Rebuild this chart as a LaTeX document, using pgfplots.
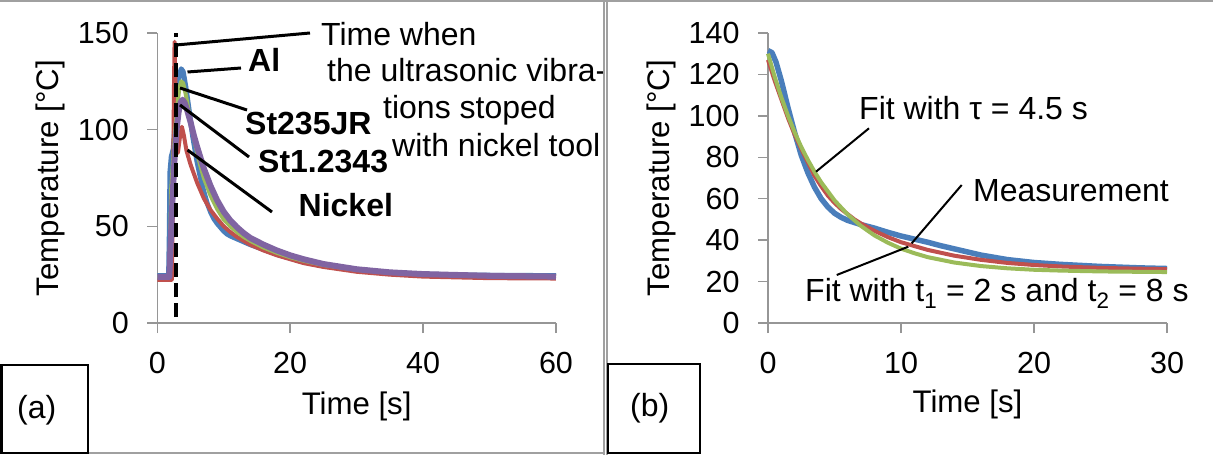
\documentclass[border=0pt]{standalone}
\usepackage{fontspec}
\setmainfont{Liberation Sans}
\usepackage{pgfplots}
\pgfplotsset{compat=1.18}

\definecolor{xlblue}{RGB}{74,126,187}
\definecolor{xlred}{RGB}{192,80,77}
\definecolor{xlgreen}{RGB}{155,187,89}
\definecolor{xlpurple}{RGB}{128,100,162}
\definecolor{axgray}{RGB}{150,150,150}
\definecolor{framegray}{RGB}{160,160,160}

\newcommand{\chartfont}{\fontsize{32bp}{38bp}\selectfont}
\newcommand{\tickfont}{\fontsize{30.5bp}{36bp}\selectfont}
\newcommand{\labelfont}{\fontsize{31.2bp}{37bp}\selectfont}

\pgfplotsset{
  panel/.style={
    scale only axis, anchor=south west,
    height=290bp,
    axis x line*=bottom, axis y line*=left,
    axis line style={axgray, line width=1.5bp, -},
    major tick style={axgray, line width=1.5bp},
    tick align=outside, major tick length=10bp,
    minor tick num=0,
    ticklabel style={font=\tickfont},
    yticklabel style={xshift=-15bp},
    xticklabel style={yshift=-16bp},
    label style={font=\labelfont},
    /pgf/number format/assume math mode=true,
    clip=false,
    ymin=0, xmin=0,
  },
}

\begin{document}
\begin{tikzpicture}[font=\chartfont, line cap=butt]
\useasboundingbox (0,0) rectangle (1213bp,455bp);

% ---------- panel (a): heating and cooling of the four materials ----------
\begin{axis}[panel,
  at={(157.3bp,132bp)}, width=398.7bp,
  xmax=60, ymax=150,
  xtick={0,20,40,60}, ytick={0,50,100,150},
  xlabel={Time [s]}, ylabel={Temperature [°C]},
  xlabel style={at={(axis description cs:0.5,-0.317)}, anchor=base},
  ylabel style={at={(axis description cs:-0.249,0.5)}, anchor=base},
]
% Al
\addplot[xlblue, line width=5bp, line join=round] coordinates {
 (0,24.5) (1.7,24.5) (1.8,45) (1.9,78) (2.1,86) (2.4,90) (2.7,105) (3.0,120)
 (3.3,128) (3.6,131.5) (3.9,130) (4.3,122) (4.8,110) (5.3,97) (6,83) (6.5,75)
 (7,68) (7.5,62) (8,57.5) (8.5,54) (9,51.5) (9.5,49.5) (10,47.5) (10.5,46)
 (11,45) (12,43.5) (13,42) (14,40.5) (16,38) (18,35.5) (20,33.5) (22,31.5)
 (25,29.5) (30,27.3) (35,26) (40,25.3) (45,24.9) (50,24.7) (60,24.5)};
% Nickel
\addplot[xlred, line width=4bp, line join=round] coordinates {
 (0,22.3) (2.2,22.3) (2.35,60) (2.5,120) (2.6,145.5) (2.75,120) (2.9,90)
 (3.1,88) (3.4,96) (3.7,101.5) (4.0,97) (4.4,89) (5,82) (6,72.5) (7,64.5)
 (8,58.5) (9,54) (10,50) (11,47) (12,44.5) (14,40.5) (16,37.5) (18,35)
 (20,33) (22,31) (25,29) (30,26.5) (35,25) (40,24) (50,23.2) (60,23)};
% St235JR
\addplot[xlgreen, line width=4bp, line join=round] coordinates {
 (0,24) (1.8,24) (1.95,45) (2.1,70) (2.4,85) (2.7,100) (3.0,112) (3.3,121)
 (3.6,125) (3.9,124) (4.3,118) (4.8,108) (5.3,99) (6,88) (6.5,81) (7,75)
 (8,66) (9,59) (10,53.5) (11,50) (12,47) (13,44.5) (14,42.5) (16,39)
 (18,36.3) (20,34) (22,32.2) (25,30) (30,27.5) (35,26) (40,25.2) (50,24.5) (60,24.2)};
% St1.2343
\addplot[xlpurple, line width=6bp, line join=round] coordinates {
 (0,23.8) (1.8,23.8) (2.0,40) (2.3,65) (2.6,85) (2.9,100) (3.2,109) (3.5,114)
 (3.8,115.5) (4.1,114) (4.5,110) (5,104) (5.5,97) (6,91) (7,80) (8,71)
 (9,63.5) (10,57.5) (11,53) (12,49.5) (13,46.5) (14,44) (16,40.5) (18,37.5)
 (20,35) (22,33) (25,30.5) (30,27.8) (35,26.2) (40,25.3) (50,24.4) (60,24)};
% moment the vibrations stopped (nickel tool)
\addplot[black, line width=4bp, dash pattern=on 14bp off 6bp] coordinates {(2.8,3) (2.8,150)};
\end{axis}

% labels of panel (a)
\draw[black, line width=3bp] (176bp,410bp) -- (310bp,422bp);
\draw[black, line width=3bp] (187.5bp,383bp) -- (241bp,387bp);
\draw[black, line width=3bp] (180bp,367bp) -- (247bp,345bp);
\draw[black, line width=3bp] (180bp,350bp) -- (249bp,298bp);
\draw[black, line width=3bp] (187.5bp,305bp) -- (272bp,243bp);
\node[anchor=base west, inner sep=0pt] at (321bp,409bp) {Time when};
\node[anchor=base west, inner sep=0pt] at (327bp,373bp) {the ultrasonic vibra-};
\node[anchor=base west, inner sep=0pt] at (383bp,336bp) {tions stoped};
\node[anchor=base west, inner sep=0pt] at (392bp,298bp) {with nickel tool};
\node[anchor=base west, inner sep=0pt, font=\chartfont\bfseries] at (248bp,383bp) {Al};
\node[anchor=base west, inner sep=0pt, font=\chartfont\bfseries] at (245bp,320bp) {St235JR};
\node[anchor=base west, inner sep=0pt, font=\chartfont\bfseries] at (258bp,282bp) {St1.2343};
\node[anchor=base west, inner sep=0pt, font=\chartfont\bfseries] at (298.5bp,238bp) {Nickel};

% ---------- panel (b): cooling curve and the two fits ----------
\begin{axis}[panel,
  at={(768bp,132bp)}, width=399bp,
  xmax=30, ymax=140,
  xtick={0,10,20,30}, ytick={0,20,...,140},
  xlabel={Time [s]}, ylabel={Temperature [°C]},
  xlabel style={at={(axis description cs:0.5,-0.31)}, anchor=base},
  ylabel style={at={(axis description cs:-0.246,0.5)}, anchor=base},
]
% measurement
\addplot[xlblue, line width=5.5bp, line join=round] coordinates {
 (0,131.5) (0.3,130.5) (0.6,126) (1,117) (1.5,104) (2,92) (2.5,81) (3,72.5)
 (3.5,65.5) (4,60) (4.5,56) (5,53) (5.5,51) (6,49.5) (6.5,48.5) (7,47.5)
 (8,45.8) (9,43.8) (10,42) (11,40.5) (12,39) (13,37.3) (14,35.8) (16,32.8)
 (18,30.6) (20,29.2) (22,28.3) (25,27.3) (28,26.6) (30,26.3)};
% fit with t1 = 2 s and t2 = 8 s
\addplot[xlred, line width=4bp, line join=round] coordinates {
 (0,127) (0.5,117) (1,108) (1.5,99) (2,91) (2.5,84) (3,77.5) (3.5,71) (4,66)
 (4.5,61.5) (5,58) (5.5,55) (6,52.5) (6.5,50) (7,48) (8,44.5) (9,41.5) (10,39)
 (12,35.3) (14,32.5) (16,30.5) (18,29) (20,28) (22,27.3) (25,26.6) (28,26.2) (30,26)};
% fit with tau = 4.5 s
\addplot[xlgreen, line width=4bp, line join=round] coordinates {
 (0,130) (0.5,118.9) (1,109.0) (1.5,100.1) (2,92.1) (2.5,85.0) (3,78.7)
 (3.5,73.0) (4,67.9) (5,59.2) (6,52.3) (7,46.8) (8,42.3) (9,38.8) (10,35.9)
 (11,33.7) (12,31.8) (14,29.2) (16,27.5) (18,26.4) (20,25.7) (22,25.3)
 (25,24.9) (28,24.7) (30,24.6)};
\end{axis}

% labels of panel (b)
\draw[black, line width=2bp] (816bp,283.3bp) -- (869bp,326.7bp);
\draw[black, line width=2bp] (961.7bp,270bp) -- (911.7bp,211.7bp);
\draw[black, line width=2bp] (836.7bp,180bp) -- (908.3bp,208.3bp);
\node[anchor=base west, inner sep=0pt] at (859bp,335bp) {Fit with τ = 4.5 s};
\node[anchor=base west, inner sep=0pt] at (973bp,253.3bp) {Measurement};
\node[anchor=base west, inner sep=0pt] at (805bp,153.3bp)
  {Fit with t\textsubscript{1} = 2 s and t\textsubscript{2} = 8 s};

% frame and panel tags
\draw[framegray, line width=2.5bp] (0,454bp) -- (1213bp,454bp);
\draw[framegray, line width=2bp] (604bp,0) -- (604bp,455bp);
\draw[framegray, line width=2bp] (607bp,0) -- (607bp,455bp);
\draw[framegray, line width=2bp] (0,2bp) -- (604bp,2bp);
\draw[black, line width=2.5bp] (1.25bp,2bp) rectangle (88bp,90bp);
\draw[black, line width=2.5bp] (608bp,2bp) rectangle (700bp,91bp);
\node[anchor=base west, inner sep=0pt] at (17bp,37bp) {(a)};
\node[anchor=base west, inner sep=0pt] at (630bp,38.3bp) {(b)};
\end{tikzpicture}
\end{document}
